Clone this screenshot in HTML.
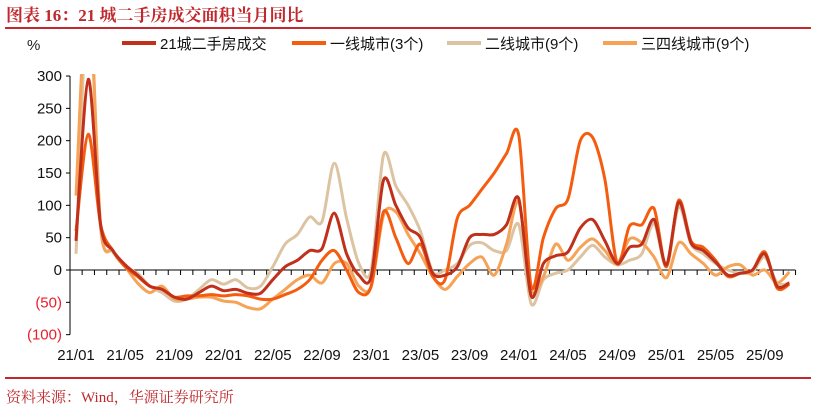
<!DOCTYPE html>
<html><head><meta charset="utf-8">
<style>
body{margin:0;background:#fff;}
svg{display:block;font-family:"Liberation Sans","Noto Sans CJK SC",sans-serif;}
</style></head>
<body>
<svg id="chart" width="815" height="415" viewBox="0 0 815 415">
  <text x="6" y="21" font-size="17" font-weight="bold" fill="#c0282d" font-family="'Liberation Serif','Noto Serif CJK SC',serif">图表 16：21 城二手房成交面积当月同比</text>
  <line x1="5" y1="28" x2="811" y2="28" stroke="#c0282d" stroke-width="2"/>
  <text x="27" y="50" font-size="15" fill="#222">%</text>
  <g id="legend"></g>
  <g id="axes"></g>
  <g id="series" clip-path="url(#clip)"></g>
  <defs><clipPath id="clip"><rect x="71" y="74" width="740" height="270"/></clipPath></defs>
  <line x1="5" y1="378" x2="811" y2="378" stroke="#c0282d" stroke-width="2"/>
  <text x="6" y="402" font-size="15" fill="#c0282d" font-family="'Liberation Serif','Noto Serif CJK SC',serif">资料来源：Wind，华源证券研究所</text>
</svg>
<script>
const months = ["21/01","21/02","21/03","21/04","21/05","21/06","21/07","21/08","21/09","21/10","21/11","21/12","22/01","22/02","22/03","22/04","22/05","22/06","22/07","22/08","22/09","22/10","22/11","22/12","23/01","23/02","23/03","23/04","23/05","23/06","23/07","23/08","23/09","23/10","23/11","23/12","24/01","24/02","24/03","24/04","24/05","24/06","24/07","24/08","24/09","24/10","24/11","24/12","25/01","25/02","25/03","25/04","25/05","25/06","25/07","25/08","25/09","25/10","25/11"];
const xTickLabels = ["21/01","21/05","21/09","22/01","22/05","22/09","23/01","23/05","23/09","24/01","24/05","24/09","25/01","25/05","25/09"];
const yTicks = [300,250,200,150,100,50,0,-50,-100];
const seriesNames = ["21城二手房成交","一线城市(3个)","二线城市(9个)","三四线城市(9个)"];
const city21 = [45,295,70,30,8,-8,-25,-30,-42,-45,-35,-25,-32,-30,-36,-36,-15,5,15,30,33,88,25,-8,-10,139,100,65,50,-5,-8,5,50,55,55,70,110,-40,10,22,28,65,78,45,10,35,40,78,8,105,42,30,12,-8,-5,0,25,-25,-20];
const tier1 = [60,210,70,30,5,-10,-25,-30,-42,-40,-40,-38,-40,-38,-40,-45,-45,-38,-30,-15,15,30,0,-35,-25,90,50,10,40,-10,-15,80,100,125,150,180,208,-25,50,95,110,200,205,140,10,68,70,95,5,108,45,35,15,-10,-5,0,28,-28,-22];
const tier2 = [25,420,65,28,5,-5,-25,-35,-48,-45,-30,-15,-22,-15,-28,-25,5,40,55,82,75,165,80,10,0,178,130,100,60,-3,0,10,38,42,30,30,70,-52,-15,-5,0,20,38,20,8,15,25,72,5,98,40,25,10,0,-5,-3,20,-20,-20];
const tier34 = [115,450,68,30,5,-20,-35,-25,-45,-45,-42,-42,-48,-50,-58,-60,-45,-30,-15,-8,-20,10,10,-25,-25,85,90,55,25,-10,-30,-10,10,20,-8,40,105,-30,-10,40,15,35,48,30,10,48,42,20,-12,42,25,10,-8,5,8,-8,0,-20,-3];
const colors = ["#c0301a","#f45d10","#dcc4a2","#f6a257"];

const NS="http://www.w3.org/2000/svg";
const x0=76, dx=12.3, yZero=270, pxPerUnit=32.33/50;
const xScale=i=>x0+i*dx;
const yScale=v=>yZero-v*pxPerUnit;
function mk(tag,attrs,parent){const e=document.createElementNS(NS,tag);for(const k in attrs)e.setAttribute(k,attrs[k]);parent.appendChild(e);return e;}
const axes=document.getElementById('axes');
const ya=mk('line',{x1:70,y1:yScale(300),x2:70,y2:yScale(-100),stroke:'#000','stroke-width':1},axes);


yTicks.forEach(v=>{
  const t=mk('line',{x1:66,y1:yScale(v),x2:70,y2:yScale(v),stroke:'#000'},axes);
  
  
  const lab=v<0?'('+(-v)+')':String(v);
  const tx=mk('text',{x:62,y:yScale(v)+5,'font-size':15,'text-anchor':'end',fill:v<0?'#e8202a':'#111'},axes);
  tx.textContent=lab;
  
  
});
const xa=mk('line',{x1:70,y1:yZero,x2:xScale(months.length-1)+6,y2:yZero,stroke:'#000'},axes);


for(let i=0;i<=months.length-1;i++){
  const xx=xScale(i)+dx/2;
  const t=mk('line',{x1:xx,y1:yZero,x2:xx,y2:yZero+5,stroke:'#000'},axes);
  
  
}
xTickLabels.forEach(l=>{
  const i=months.indexOf(l);
  const tx=mk('text',{x:xScale(i),y:360,'font-size':15,'text-anchor':'middle',fill:'#111'},axes);
  tx.textContent=l;
  
  
});
function smoothPath(vals){
  const p=vals.map((v,i)=>[xScale(i),yScale(v)]);
  let d='M'+p[0][0]+','+p[0][1];
  for(let i=0;i<p.length-1;i++){
    const a=p[i-1]||p[i],b=p[i],c=p[i+1],e=p[i+2]||c;
    const t=0.15;
    d+=' C'+(b[0]+(c[0]-a[0])*t)+','+(b[1]+(c[1]-a[1])*t)+' '+(c[0]-(e[0]-b[0])*t)+','+(c[1]-(e[1]-b[1])*t)+' '+c[0]+','+c[1];
  }
  return d;
}
const sg=document.getElementById('series');
const allSeries=[tier2,tier34,tier1,city21];
const order=[2,3,1,0];
const snames=['series-tier2','series-tier34','series-tier1','series-21-city'];
allSeries.forEach((s,k)=>{
  const pth=mk('path',{d:smoothPath(s),fill:'none',stroke:colors[order[k]],'stroke-width':3,'stroke-linejoin':'round'},sg);
  
  
});
const lg=document.getElementById('legend');
const lx=[122,292,447,603];
seriesNames.forEach((n,k)=>{
  const l=mk('line',{x1:lx[k],y1:43,x2:lx[k]+34,y2:43,stroke:colors[k],'stroke-width':4},lg);
  
  
  const t=mk('text',{x:lx[k]+38,y:49,'font-size':15,fill:'#111'},lg);
  t.textContent=n;
  
  
});
</script>
</body></html>
